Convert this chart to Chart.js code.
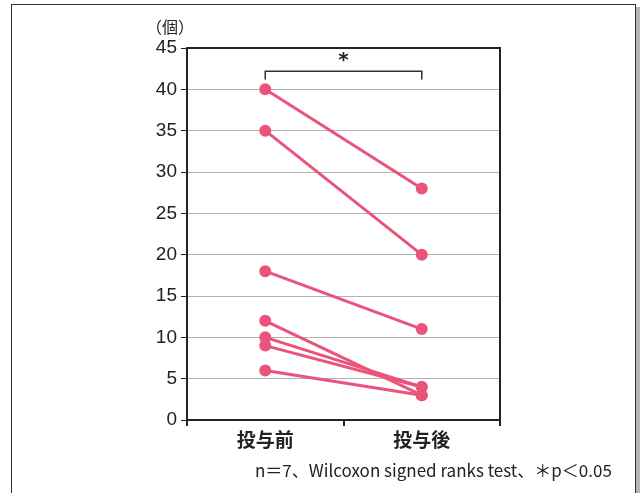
<!DOCTYPE html>
<html>
<head>
<meta charset="utf-8">
<script src="https://cdn.jsdelivr.net/npm/chart.js@4/dist/chart.umd.min.js"></script>
<style>
  html, body { margin: 0; padding: 0; background: #fff; overflow: hidden; }
  #wrap { position: relative; width: 641px; height: 493px; }
  #frame {
    position: absolute; left: 11px; top: 4px; width: 623px; height: 500px;
    border: 1.5px solid #333; box-shadow: 4px 3px 0 #b5b5b5;
  }
  #c { position: absolute; left: 0; top: 0; }
  .txt { position: absolute; font-family: "Noto Sans CJK JP", "Noto Sans", sans-serif; color: #222; white-space: nowrap; }
  #unit { left: 146px; top: 14px; font-size: 16px; }
  #note { left: 255px; top: 457px; font-size: 17px; }
</style>
</head>
<body>
<div id="wrap">
  <div id="frame"></div>
  <canvas id="c" width="641" height="493"></canvas>
  <div class="txt" id="unit">（個）</div>
  <div class="txt" id="note">n＝7、Wilcoxon signed ranks test、＊p＜0.05</div>
</div>
<script>
// data
const groups = ['投与前', '投与後'];
const preValues = [40, 35, 18, 12, 10, 9, 6];
const postValues = [28, 20, 11, 3, 4, 4, 3];
const yTicks = [0, 5, 10, 15, 20, 25, 30, 35, 40, 45];
const bracketLevel = 42.2;
const bracketDrop = 1.0;
const sigMark = '*';

const pink = 'rgb(234, 84, 122)';

const datasets = preValues.map((v, i) => ({
    label: 'subject ' + (i + 1),
    data: [v, postValues[i]],
    borderColor: pink,
    backgroundColor: pink,
    borderWidth: 3,
    pointRadius: 6,
    pointHoverRadius: 6,
    pointBorderWidth: 0
}));

// top/right frame of the plot and the significance bracket
const extras = {
    id: 'extras',
    afterDraw(chart) {
        const ctx = chart.ctx;
        const a = chart.chartArea;
        const x = chart.scales.x, y = chart.scales.y;
        ctx.save();
        ctx.strokeStyle = '#222';
        ctx.lineWidth = 2;
        ctx.beginPath();
        ctx.moveTo(a.left, a.top);
        ctx.lineTo(a.right, a.top);
        ctx.lineTo(a.right, a.bottom);
        ctx.stroke();
        // bracket
        const x0 = x.getPixelForValue(0), x1 = x.getPixelForValue(1);
        const yb = y.getPixelForValue(bracketLevel);
        const yd = y.getPixelForValue(bracketLevel - bracketDrop);
        ctx.lineWidth = 1.5;
        ctx.strokeStyle = '#333';
        ctx.beginPath();
        ctx.moveTo(x0, yd);
        ctx.lineTo(x0, yb);
        ctx.lineTo(x1, yb);
        ctx.lineTo(x1, yd);
        ctx.stroke();
        ctx.fillStyle = '#222';
        ctx.font = 'bold 20px "DejaVu Sans", sans-serif';
        ctx.textAlign = 'center';
        ctx.textBaseline = 'middle';
        ctx.fillText(sigMark, (x0 + x1) / 2, yb - 10);
        ctx.restore();
    }
};

new Chart(document.getElementById('c'), {
    type: 'line',
    data: { labels: groups, datasets: datasets },
    options: {
        responsive: false,
        animation: false,
        layout: { padding: { top: 48, right: 141, left: 0, bottom: 0 } },
        plugins: { legend: { display: false }, tooltip: { enabled: false } },
        scales: {
            x: {
                type: 'category',
                offset: true,
                afterFit: function (scale) { scale.height = 73; },
                grid: {
                    offset: true,
                    drawOnChartArea: false,
                    color: '#222',
                    tickColor: '#222',
                    tickLength: 6,
                    lineWidth: 2
                },
                border: { color: '#222', width: 2 },
                ticks: {
                    color: '#222',
                    padding: 2,
                    font: { family: '"Noto Sans CJK JP", sans-serif', size: 19, weight: 'bold' }
                }
            },
            y: {
                min: 0,
                max: 45,
                afterFit: function (scale) { scale.width = 187; },
                afterBuildTicks: function (scale) {
                    scale.ticks = yTicks.map(v => ({ value: v }));
                },
                grid: {
                    color: function (context) {
                        return context.tick && context.tick.value === 45 ? '#222' : '#b3b3b3';
                    },
                    tickColor: '#222',
                    tickLength: 6,
                    lineWidth: 1
                },
                border: { color: '#222', width: 2 },
                ticks: {
                    color: '#222',
                    padding: 4,
                    font: { family: '"Liberation Sans", "DejaVu Sans", sans-serif', size: 19 }
                }
            }
        }
    },
    plugins: [extras]
});
</script>
</body>
</html>
